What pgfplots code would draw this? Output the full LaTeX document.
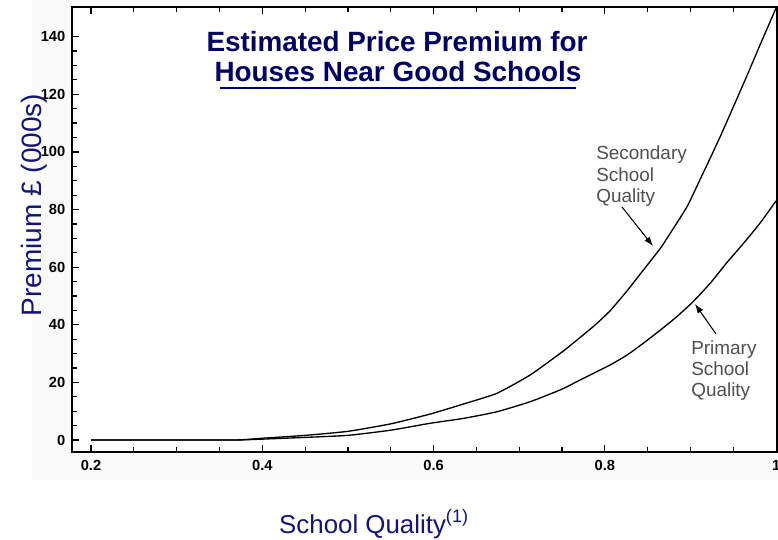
\documentclass[border=0pt]{standalone}
\usepackage{fontspec}
\setmainfont{Liberation Sans}
\usepackage{pgfplots}
\pgfplotsset{compat=1.18}
\usetikzlibrary{arrows.meta}
\definecolor{navy}{HTML}{000066}
\definecolor{labnavy}{HTML}{14147A}
\definecolor{anngray}{HTML}{505050}
\begin{document}
\begin{tikzpicture}[x=0.75pt,y=0.75pt]
\path[use as bounding box] (0,0) rectangle (778,539);
\fill[black!2] (32,59) rectangle (778,539);
\begin{axis}[at={(54pt,65.25pt)}, anchor=south west,
  width=528.75pt, height=333.75pt, scale only axis,
  xmin=0.1778, xmax=1.001, ymin=-4.17, ymax=150.3,
  xtick={0.2,0.4,0.6,0.8,1}, ytick={0,20,40,60,80,100,120,140},
  minor x tick num=3, minor y tick num=3,
  tick align=inside, xtick pos=both, ytick pos=left,
  major tick length=5pt, minor tick length=3.5pt,
  axis line style={line width=1.2pt},
  every tick/.style={black, line width=0.9pt},
  ticklabel style={font=\fontsize{11}{13}\selectfont\bfseries},
  /pgf/number format/assume math mode=true,
  xticklabel style={yshift=-3pt},
  yticklabel style={xshift=-1.5pt},
  axis background/.style={fill=white},
  clip=true,
]
\addplot[black, line width=1pt, smooth, tension=0.3] coordinates {
(0.2,0) (0.30,0) (0.37,0) (0.40,0.6) (0.45,1.6) (0.50,3.0) (0.55,5.6)
(0.596,9.0) (0.635,12.5) (0.674,16.2) (0.713,22.6) (0.752,31.0) (0.787,39.5)
(0.806,44.8) (0.826,51.8) (0.845,59.0) (0.865,66.6) (0.876,71.6) (0.896,81.0)
(0.911,90.3) (0.935,105.5) (0.966,126.5) (0.981,137) (1.0,150)
};
\addplot[black, line width=1pt, smooth, tension=0.3] coordinates {
(0.2,0) (0.30,0) (0.37,0) (0.40,0.3) (0.45,0.9) (0.50,1.6) (0.55,3.4)
(0.596,5.8) (0.635,7.5) (0.674,9.8) (0.713,13.3) (0.748,17.4) (0.767,20.2)
(0.787,23.2) (0.806,26.0) (0.826,29.5) (0.845,33.6) (0.865,38.2) (0.884,42.8)
(0.903,48.0) (0.923,54.4) (0.942,61.4) (0.962,68.3) (0.981,75.2) (1.0,83)
};
\end{axis}
% title
\node[anchor=base, inner sep=0, text=navy, font=\fontsize{20.9}{24}\selectfont\bfseries] at (397,487) {Estimated Price Premium for};
\node[anchor=base, inner sep=0, text=navy, font=\fontsize{20.9}{24}\selectfont\bfseries] at (398,457) {Houses Near Good Schools};
\draw[navy, line width=1.5pt] (220,451) -- (576,451);
% axis labels
\node[anchor=base, inner sep=0, text=labnavy, font=\fontsize{19.4}{22}\selectfont] at (374,6) {School Quality\textsuperscript{(1)}};
\node[anchor=base, rotate=90, inner sep=0, text=labnavy, font=\fontsize{21}{24}\selectfont] at (41,334) {Premium £ (000s)};
% annotations
\begin{scope}[every node/.style={anchor=base west, inner sep=0, text=anngray, font=\fontsize{14.2}{16}\selectfont}]
\node at (596,379) {Secondary};
\node at (596,357) {School};
\node at (596,336) {Quality};
\node at (691,184) {Primary};
\node at (691,163) {School};
\node at (691,142) {Quality};
\end{scope}
\draw[line width=0.8pt, -{Latex[length=7pt,width=5pt]}] (622,332) -- (653,293);
\draw[line width=0.8pt, -{Latex[length=7pt,width=5pt]}] (716,205) -- (695,235);
\end{tikzpicture}
\end{document}
